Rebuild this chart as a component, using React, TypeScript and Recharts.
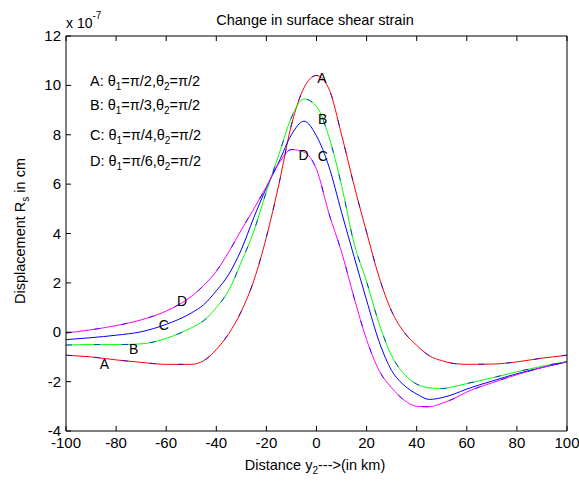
import { LineChart, Line, XAxis, YAxis, ReferenceDot } from "recharts";

const FONT = "'Liberation Sans', Arial, Helvetica, sans-serif";

// distance y2 in km
const distance = [-100, -90, -80, -70, -60, -50, -45, -40, -35, -30, -25, -20, -15, -10, -5, 0, 5, 10, 15, 20, 25, 30, 35, 40, 45, 50, 55, 60, 70, 80, 90, 100];

// displacement Rs, units of 1e-7 cm
const curveA = [-0.93, -1.0, -1.12, -1.22, -1.3, -1.3, -1.15, -0.7, -0.05, 0.85, 2.1, 3.85, 6.0, 8.4, 9.9, 10.4, 9.85, 8.0, 5.95, 4.05, 2.23, 0.85, 0.0, -0.53, -0.95, -1.15, -1.27, -1.3, -1.29, -1.2, -1.05, -0.93];
const curveB = [-0.52, -0.5, -0.5, -0.47, -0.25, 0.18, 0.47, 1.0, 1.7, 2.85, 4.1, 5.7, 7.2, 8.7, 9.45, 9.15, 7.9, 5.95, 3.6, 2.05, 0.35, -0.95, -1.7, -2.1, -2.25, -2.28, -2.2, -2.08, -1.85, -1.6, -1.38, -1.18];
const curveC = [-0.3, -0.22, -0.12, 0.02, 0.32, 0.78, 1.12, 1.68, 2.35, 3.35, 4.65, 5.85, 6.9, 8.0, 8.55, 7.95, 6.7, 4.86, 3.06, 1.3, -0.38, -1.55, -2.15, -2.5, -2.72, -2.65, -2.5, -2.3, -1.98, -1.68, -1.43, -1.2];
const curveD = [-0.03, 0.1, 0.27, 0.5, 0.86, 1.45, 1.9, 2.47, 3.26, 4.15, 5.0, 5.9, 6.85, 7.4, 7.3, 6.6, 4.8, 3.25, 1.4, -0.3, -1.55, -2.25, -2.75, -3.0, -3.02, -2.88, -2.68, -2.42, -2.05, -1.72, -1.43, -1.2];

const xTicks = [-100, -80, -60, -40, -20, 0, 20, 40, 60, 80, 100];
const yTicks = [-4, -2, 0, 2, 4, 6, 8, 10, 12];

// letters written next to the curves, in data units
const curveLabels = [
  { text: "A", x: -84.7, y: -1.27 },
  { text: "B", x: -73, y: -0.66 },
  { text: "C", x: -61, y: 0.29 },
  { text: "D", x: -53.7, y: 1.26 },
  { text: "A", x: 2.2, y: 10.3 },
  { text: "B", x: 2.5, y: 8.64 },
  { text: "C", x: 2.5, y: 7.14 },
  { text: "D", x: -5.2, y: 7.16 },
];

const legendRows = [
  { key: "A", theta1: "π/2", baseline: 86 },
  { key: "B", theta1: "π/3", baseline: 110 },
  { key: "C", theta1: "π/4", baseline: 140 },
  { key: "D", theta1: "π/6", baseline: 166 },
];

const rows = distance.map((x, i) => ({ x, a: curveA[i], b: curveB[i], c: curveC[i], d: curveD[i] }));

const series = [
  { key: "a", color: "#ff0000", dashed: true },
  { key: "b", color: "#00ff00", dashed: true },
  { key: "c", color: "#0000ff", dashed: false },
  { key: "d", color: "#ff00ff", dashed: true },
];

// plot box (from the chart margins below)
const BOX = { left: 66, top: 36, right: 567, bottom: 431 };
const TICK = 5;

// inward tick marks, matlab style box on all four sides
const BottomTick = (p: any) => (
  <g>
    <line x1={p.x} y1={BOX.bottom} x2={p.x} y2={BOX.bottom - TICK} stroke="#000" />
    <text x={p.x} y={BOX.bottom + 17} textAnchor="middle" fontSize={15} fontFamily={FONT} fill="#000">
      {p.payload.value}
    </text>
  </g>
);
const LeftTick = (p: any) => (
  <g>
    <line x1={BOX.left} y1={p.y} x2={BOX.left + TICK} y2={p.y} stroke="#000" />
    <text x={BOX.left - 5} y={p.y + 5} textAnchor="end" fontSize={15} fontFamily={FONT} fill="#000">
      {p.payload.value}
    </text>
  </g>
);
const TopTick = (p: any) => <line x1={p.x} y1={BOX.top} x2={p.x} y2={BOX.top + TICK} stroke="#000" />;
const RightTick = (p: any) => <line x1={BOX.right} y1={p.y} x2={BOX.right - TICK} y2={p.y} stroke="#000" />;

export default function App() {
  return (
    <div style={{ position: "absolute", left: 0, top: 0, width: 579, height: 481, background: "#fff", fontFamily: FONT }}>
      <LineChart width={579} height={481} data={rows} margin={{ top: 35, right: 11, left: 0, bottom: 0 }}>
        <XAxis
          dataKey="x"
          type="number"
          domain={[-100, 100]}
          ticks={xTicks}
          interval={0}
          height={50}
          tickLine={false}
          stroke="#000"
          tick={BottomTick}
        />
        <XAxis
          xAxisId="top"
          orientation="top"
          dataKey="x"
          type="number"
          domain={[-100, 100]}
          ticks={xTicks}
          interval={0}
          height={1}
          tickLine={false}
          tick={TopTick}
          stroke="#000"
        />
        <YAxis
          type="number"
          domain={[-4, 12]}
          ticks={yTicks}
          interval={0}
          width={66}
          tickLine={false}
          stroke="#000"
          tick={LeftTick}
        />
        <YAxis
          yAxisId="right"
          orientation="right"
          type="number"
          domain={[-4, 12]}
          ticks={yTicks}
          interval={0}
          width={1}
          tickLine={false}
          tick={RightTick}
          stroke="#000"
        />
        {series.map((s) => (
          <Line
            key={s.key}
            dataKey={s.key}
            type="monotone"
            stroke={s.color}
            strokeWidth={1}
            dot={false}
            activeDot={false}
            isAnimationActive={false}
          />
        ))}
        {series
          .filter((s) => s.dashed)
          .map((s) => (
            <Line
              key={s.key + "-over"}
              dataKey={s.key}
              type="monotone"
              stroke="#0000ff"
              strokeOpacity={0.75}
              strokeDasharray="6 22"
              strokeWidth={1}
              dot={false}
              activeDot={false}
              isAnimationActive={false}
            />
          ))}
        {curveLabels.map((l, i) => (
          <ReferenceDot
            key={i}
            x={l.x}
            y={l.y}
            r={0}
            shape={(p: any) => (
              <text x={p.cx} y={p.cy + 5} textAnchor="middle" fontSize={14} fontFamily={FONT} fill="#000">
                {l.text}
              </text>
            )}
          />
        ))}
      </LineChart>
      <svg width={579} height={481} style={{ position: "absolute", left: 0, top: 0, pointerEvents: "none" }}>
        <g fontFamily={FONT} fill="#000">
          <text x={315} y={25} fontSize={14.5} textAnchor="middle">
            Change in surface shear strain
          </text>
          <text x={66} y={28} fontSize={14}>
            x 10
            <tspan dy={-9} fontSize={10}>
              -7
            </tspan>
          </text>
          {legendRows.map((r) => (
            <text key={r.key} x={90} y={r.baseline} fontSize={14.5}>
              {r.key}: θ
              <tspan dy={4} fontSize={10}>1</tspan>
              <tspan dy={-4}>={r.theta1},θ</tspan>
              <tspan dy={4} fontSize={10}>2</tspan>
              <tspan dy={-4}>=π/2</tspan>
            </text>
          ))}
          <text x={315} y={470} fontSize={14.5} textAnchor="middle">
            Distance y<tspan dy={4} fontSize={10}>2</tspan>
            <tspan dy={-4}>---&gt;(in km)</tspan>
          </text>
          <text transform="translate(25,231) rotate(-90)" fontSize={14.5} textAnchor="middle">
            Displacement R<tspan dy={4} fontSize={10}>s</tspan>
            <tspan dy={-4}> in cm</tspan>
          </text>
        </g>
      </svg>
    </div>
  );
}
